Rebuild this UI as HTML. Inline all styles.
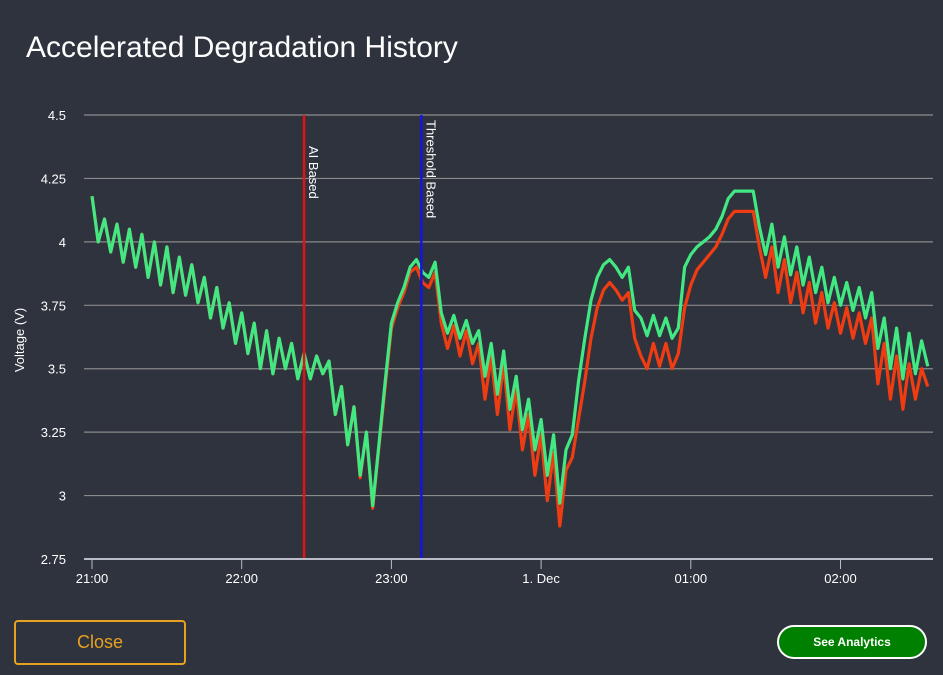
<!DOCTYPE html>
<html><head><meta charset="utf-8"><style>
body{margin:0;background:#2e333d;width:943px;height:675px;overflow:hidden;font-family:"Liberation Sans",sans-serif}
#title{position:absolute;left:26px;top:31px;color:#fff;font-size:30px}
#close{position:absolute;left:14px;top:620px;width:168px;height:41px;border:2px solid #e8a020;border-radius:4px;color:#e8a020;font-size:18px;display:flex;align-items:center;justify-content:center;box-sizing:content-box}
#analytics{position:absolute;left:777px;top:625px;width:146px;height:30px;border:2px solid #fff;border-radius:17px;background:#008000;color:#fff;font-size:12px;font-weight:bold;display:flex;align-items:center;justify-content:center}
svg{position:absolute;left:0;top:0}
</style></head><body>
<div id="title">Accelerated Degradation History</div>
<svg id="chart" width="943" height="675"></svg>
<div id="close">Close</div>
<div id="analytics">See Analytics</div>
<script>
const yTicks=[2.75,3,3.25,3.5,3.75,4,4.25,4.5];
const yTickLabels=["2.75","3","3.25","3.5","3.75","4","4.25","4.5"];
const xTicks=[0,60,120,180,240,300];
const xTickLabels=["21:00","22:00","23:00","1. Dec","01:00","02:00"];
const tStart=0, tStep=2.5;
const greenValues=[4.18,4.0,4.09,3.96,4.07,3.92,4.05,3.9,4.03,3.86,4.0,3.83,3.98,3.8,3.94,3.79,3.91,3.76,3.86,3.7,3.82,3.66,3.76,3.6,3.72,3.56,3.68,3.5,3.65,3.48,3.62,3.5,3.6,3.46,3.56,3.46,3.55,3.48,3.53,3.32,3.43,3.2,3.35,3.08,3.25,2.96,3.2,3.45,3.68,3.76,3.82,3.9,3.93,3.88,3.86,3.92,3.72,3.64,3.71,3.62,3.69,3.6,3.65,3.47,3.6,3.4,3.57,3.34,3.47,3.26,3.38,3.18,3.3,3.08,3.24,2.97,3.18,3.24,3.45,3.62,3.77,3.86,3.91,3.93,3.9,3.86,3.9,3.73,3.7,3.63,3.71,3.63,3.7,3.62,3.66,3.9,3.95,3.98,4.0,4.02,4.05,4.1,4.17,4.2,4.2,4.2,4.2,4.06,3.95,4.07,3.9,4.02,3.87,3.98,3.83,3.94,3.8,3.9,3.76,3.86,3.75,3.84,3.73,3.82,3.7,3.8,3.58,3.7,3.5,3.66,3.46,3.64,3.48,3.61,3.51];
const redValues=[4.18,4.0,4.09,3.96,4.07,3.92,4.05,3.9,4.03,3.86,4.0,3.83,3.98,3.8,3.94,3.79,3.91,3.76,3.86,3.7,3.82,3.66,3.76,3.6,3.72,3.56,3.68,3.5,3.65,3.48,3.62,3.5,3.6,3.46,3.56,3.46,3.55,3.48,3.53,3.32,3.43,3.2,3.35,3.07,3.25,2.95,3.19,3.43,3.66,3.74,3.8,3.88,3.9,3.84,3.82,3.88,3.68,3.58,3.67,3.55,3.65,3.52,3.6,3.38,3.55,3.32,3.52,3.26,3.42,3.18,3.32,3.08,3.24,2.98,3.17,2.88,3.1,3.15,3.3,3.45,3.62,3.74,3.81,3.84,3.81,3.77,3.8,3.62,3.55,3.5,3.6,3.51,3.6,3.5,3.56,3.74,3.83,3.89,3.92,3.95,3.98,4.03,4.09,4.12,4.12,4.12,4.12,3.98,3.86,3.98,3.8,3.93,3.76,3.88,3.72,3.84,3.68,3.8,3.66,3.76,3.64,3.74,3.62,3.72,3.6,3.7,3.44,3.6,3.38,3.55,3.34,3.52,3.38,3.5,3.43];
const markers=[{t:85,label:"AI Based",color:"#e01414"},{t:132,label:"Threshold Based",color:"#1414e0"}];
const NS="http://www.w3.org/2000/svg";
const svg=document.getElementById('chart');
const X0=92,PXM=2.495,Y0=559,PXV=253.7;
const xs=t=>X0+t*PXM, ys=v=>Y0-(v-2.75)*PXV;
function mk(tag,attrs,parent){const e=document.createElementNS(NS,tag);for(const k in attrs)e.setAttribute(k,attrs[k]);(parent||svg).appendChild(e);return e;}
yTicks.forEach((v,i)=>{
  const g=mk('line',{x1:84,x2:933,y1:ys(v),y2:ys(v),stroke:i===0?'#b8bcc8':'#8a8a8a','stroke-width':i===0?2:1.2});
  
  
  const t=mk('text',{x:66,y:ys(v)+5,fill:'#fff','font-size':13,'text-anchor':'end'});
  t.textContent=yTickLabels[i];
  
  
});
xTicks.forEach((m,i)=>{
  const l=mk('line',{x1:xs(m),x2:xs(m),y1:559,y2:569,stroke:'#b8bcc8','stroke-width':1});
  
  
  const t=mk('text',{x:xs(m),y:583,fill:'#fff','font-size':13,'text-anchor':'middle'});
  t.textContent=xTickLabels[i];
  
  
});
const yt=mk('text',{x:0,y:0,fill:'#fff','font-size':13,'text-anchor':'middle',transform:'translate(24,340) rotate(-90)'});
yt.textContent='Voltage (V)';


function series(vals,color,name){
  const d=vals.map((v,i)=>(i?'L':'M')+xs(tStart+i*tStep).toFixed(1)+','+ys(v).toFixed(1)).join('');
  const p=mk('path',{d:d,fill:'none',stroke:color,'stroke-width':3.2,'stroke-linejoin':'round'});
  
  
}
series(redValues,'#f03c12','red-series');
series(greenValues,'#42e882','green-series');
markers.forEach(m=>{
  const l=mk('line',{x1:xs(m.t),x2:xs(m.t),y1:115,y2:558,stroke:m.color,'stroke-width':2.5});
  
  
  const t=mk('text',{x:0,y:0,fill:'#fff','font-size':13,transform:`translate(${xs(m.t)+5},${m.t<100?146:120}) rotate(90)`});
  t.textContent=m.label;
  
  
});
</script>
</body></html>
